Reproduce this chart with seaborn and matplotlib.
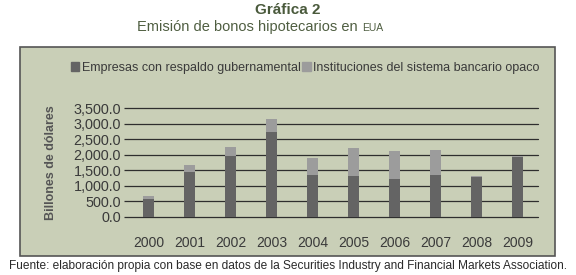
import seaborn as sns
import matplotlib.pyplot as plt
import matplotlib.patches as mpatches
import pandas as pd

years = ['2000', '2001', '2002', '2003', '2004', '2005', '2006', '2007', '2008', '2009']
gubernamental = [560, 1450, 1970, 2720, 1345, 1300, 1205, 1345, 1290, 1935]
opaco = [105, 215, 290, 435, 540, 915, 925, 795, 30, 10]

total = [g + o for g, o in zip(gubernamental, opaco)]
df = pd.DataFrame({'year': years, 'gub': gubernamental, 'total': total})

sns.set_theme(style='white')
plt.rcParams['font.family'] = ['Liberation Sans', 'DejaVu Sans']

bg = '#c9cfb7'
dark = '#646464'
light = '#9c9c9c'
txt = '#3a3a3a'

fig = plt.figure(figsize=(5.76, 2.75), dpi=100)
fig.patch.set_facecolor('white')

# panel box behind everything
panel = mpatches.Rectangle((20 / 576, 1 - 256 / 275), 535 / 576, 209 / 275,
                           transform=fig.transFigure, facecolor=bg,
                           edgecolor='#555555', linewidth=1.2, zorder=-5)
fig.patches.append(panel)

ax = fig.add_axes([128 / 576, 1 - 216.7 / 275, 410 / 576, 108.4 / 275])
ax.set_zorder(2)
ax.set_facecolor('none')

sns.barplot(data=df, x='year', y='total', color=light, width=0.25,
            saturation=1, linewidth=0, edgecolor='none', ax=ax, zorder=3)
sns.barplot(data=df, x='year', y='gub', color=dark, width=0.25,
            saturation=1, linewidth=0, edgecolor='none', ax=ax, zorder=4)

ax.set_ylim(0, 3500)
ax.set_xlim(-0.5, 9.5)
ax.set_yticks(range(0, 3501, 500))
ax.set_yticklabels([f'{v:,.1f}' for v in range(0, 3501, 500)])
for v in range(0, 3501, 500):
    ax.axhline(v, color='#2e2e2e', linewidth=0.9, zorder=2, clip_on=False)
for s in ax.spines.values():
    s.set_visible(False)
ax.tick_params(axis='y', length=3, width=0.9, color='#2e2e2e', pad=2,
               labelsize=10.4, labelcolor=txt, left=True)
ax.tick_params(axis='x', length=0, pad=14, labelsize=10, labelcolor=txt)
ax.set_xlabel('')
ax.set_ylabel('Billones de dólares', fontsize=9, color='#555555',
              fontweight='bold', labelpad=12)

handles = [mpatches.Patch(color=dark, label='Empresas con respaldo gubernamental'),
           mpatches.Patch(color=light, label='Instituciones del sistema bancario opaco')]
fig.legend(handles=handles, loc='center', bbox_to_anchor=(305 / 576, 1 - 68 / 275),
           ncol=2, frameon=False, fontsize=9, handlelength=0.7,
           handleheight=0.7, handletextpad=0.2, columnspacing=0.1,
           labelcolor=txt)

fig.text(0.5, 1 - 10 / 275, 'Gráfica 2', ha='center', va='center',
         fontsize=11, fontweight='bold', color='#4a5a3c')
fig.text(0.628, 1 - 27 / 275, 'Emisión de bonos hipotecarios en ', ha='right',
         va='center', fontsize=10.5, color='#4f5e41')
fig.text(0.628, 1 - 27.6 / 275, 'EUA', ha='left', va='center',
         fontsize=7.5, color='#4f5e41')
fig.text(0.5, 1 - 266 / 275,
         'Fuente: elaboración propia con base en datos de la Securities Industry and Financial Markets Association.',
         ha='center', va='center', fontsize=8.6, color='#2a2a2a')

plt.savefig('out.png', dpi=100)
